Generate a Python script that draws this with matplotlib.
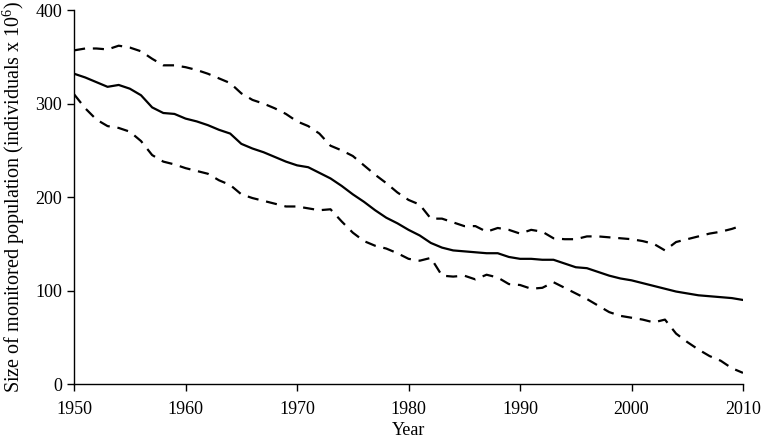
import matplotlib
matplotlib.use("Agg")
import matplotlib.pyplot as plt
import numpy as np

years = np.arange(1950, 2011)

mean_pop = [332, 328, 323, 318, 320, 316, 309, 296, 290, 289,
            284, 281, 277, 272, 268, 257, 252, 248, 243, 238,
            234, 232, 226, 220, 212, 203, 195, 186, 178, 172,
            165, 159, 151, 146, 143, 142, 141, 140, 140, 136,
            134, 134, 133, 133, 129, 125, 124, 120, 116, 113,
            111, 108, 105, 102, 99, 97, 95, 94, 93, 92,
            90]

upper_pop = [357, 359, 359, 358, 362, 360, 356, 348, 341, 341,
             339, 336, 332, 327, 322, 311, 304, 300, 295, 289,
             281, 276, 268, 255, 250, 244, 234, 224, 215, 205,
             197, 192, 177, 177, 173, 169, 169, 163, 167, 165,
             161, 165, 163, 156, 155, 155, 158, 158, 157, 156,
             155, 153, 150, 143, 152, 155, 158, 161, 163, 166,
             170]

lower_pop = [310, 295, 283, 276, 274, 270, 260, 245, 238, 235,
             231, 228, 225, 218, 213, 203, 199, 196, 193, 190,
             190, 188, 186, 187, 174, 162, 153, 148, 145, 140,
             134, 132, 135, 116, 115, 116, 112, 117, 114, 107,
             106, 102, 103, 109, 103, 97, 91, 84, 77, 73,
             71, 69, 66, 69, 54, 45, 37, 30, 25, 17,
             12]

plt.rcParams["font.family"] = ["Liberation Serif", "DejaVu Serif"]
plt.rcParams["mathtext.fontset"] = "custom"
plt.rcParams["mathtext.rm"] = "Liberation Serif"

fig = plt.figure(figsize=(7.64, 4.42), dpi=100)
ax = fig.add_axes([0.097, 0.131, 0.8755, 0.846])

ax.plot(years, mean_pop, color="black", lw=1.6)
ax.plot(years, upper_pop, color="black", lw=1.6, dashes=(5, 3.5))
ax.plot(years, lower_pop, color="black", lw=1.6, dashes=(5, 3.5))

ax.set_xlim(1950, 2010)
ax.set_ylim(0, 400)
ax.set_xticks(range(1950, 2011, 10))
ax.set_yticks(range(0, 401, 100))
ax.tick_params(direction="out", length=5, width=1, labelsize=13)
ax.tick_params(axis="x", pad=7)
for side in ("top", "right"):
    ax.spines[side].set_visible(False)
for side in ("left", "bottom"):
    ax.spines[side].set_linewidth(1)

ax.set_xlabel("Year", fontsize=13, labelpad=3)
ax.set_ylabel("Size of monitored population (individuals x 10$^{6}$)",
              fontsize=14.5, labelpad=6)

fig.savefig("out.png", dpi=100)
